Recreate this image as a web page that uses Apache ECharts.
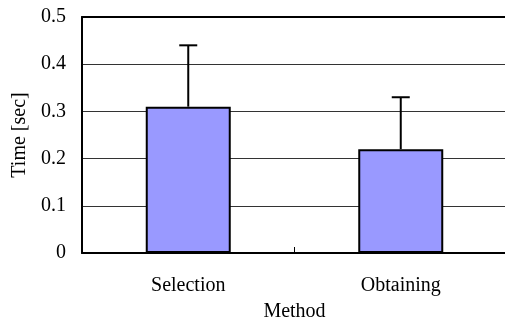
<!DOCTYPE html>
<html>
<head>
<meta charset="utf-8">
<script src="https://cdn.jsdelivr.net/npm/echarts@6/dist/echarts.min.js"></script>
<style>html,body{margin:0;padding:0;background:#fff}#c{width:505px;height:322px}</style>
</head>
<body>
<div id="c"></div>
<script>
const categories = ['Selection', 'Obtaining'];
const meanValues = [0.31, 0.22];
const errorValues = [0.13, 0.11];
const yTicks = [0, 0.1, 0.2, 0.3, 0.4, 0.5];

const FONT = '"Liberation Serif", "Times New Roman", serif';
const chart = echarts.init(document.getElementById('c'), null, {renderer: 'canvas'});
const errData = categories.map((c, i) => [i, meanValues[i], meanValues[i] + errorValues[i]]);

chart.setOption({
  animation: false,
  backgroundColor: '#fff',
  grid: {left: 82, top: 17, width: 425, height: 236, containLabel: false, outerBoundsMode: 'none'},
  xAxis: [{
    type: 'category',
    data: categories,
    position: 'bottom',
    name: 'Method',
    nameLocation: 'middle',
    nameGap: 49,
    nameTextStyle: {fontFamily: FONT, fontSize: 20, color: '#000'},
    axisLine: {lineStyle: {color: '#000', width: 2}},
    axisTick: {show: true, inside: true, length: 6, lineStyle: {color: '#000', width: 1}},
    axisLabel: {fontFamily: FONT, fontSize: 20, color: '#000', margin: 23},
    splitLine: {show: false}
  }, {
    type: 'category',
    data: categories,
    position: 'top',
    axisLine: {show: true, lineStyle: {color: '#000', width: 2}},
    axisTick: {show: false},
    axisLabel: {show: false},
    splitLine: {show: false}
  }],
  yAxis: {
    type: 'value',
    min: 0, max: 0.5, interval: 0.1,
    name: 'Time [sec]',
    nameLocation: 'middle',
    nameGap: 52,
    nameTextStyle: {fontFamily: FONT, fontSize: 20, color: '#000'},
    axisLine: {show: true, lineStyle: {color: '#000', width: 2}},
    axisTick: {show: false},
    axisLabel: {fontFamily: FONT, fontSize: 20, color: '#000', margin: 16,
      formatter: v => { const t = yTicks.find(x => Math.abs(x - v) < 1e-9); return t === undefined ? '' : String(t); }},
    splitLine: {show: true, lineStyle: {color: '#333', width: 1}}
  },
  series: [{
    type: 'bar',
    data: meanValues,
    barWidth: '40%',
    itemStyle: {color: '#9999ff', borderColor: '#000', borderWidth: 2},
    z: 3
  }, {
    type: 'custom',
    data: errData,
    z: 4,
    renderItem: function (params, api) {
      const x = api.value(0);
      const lo = api.coord([x, api.value(1)]);
      const hi = api.coord([x, api.value(2)]);
      const half = 9;
      const style = {stroke: '#000', lineWidth: 2};
      return {
        type: 'group',
        children: [
          {type: 'line', shape: {x1: lo[0], y1: lo[1], x2: hi[0], y2: hi[1]}, style: style},
          {type: 'line', shape: {x1: hi[0] - half, y1: hi[1], x2: hi[0] + half, y2: hi[1]}, style: style}
        ]
      };
    }
  }]
});
</script>
</body>
</html>
